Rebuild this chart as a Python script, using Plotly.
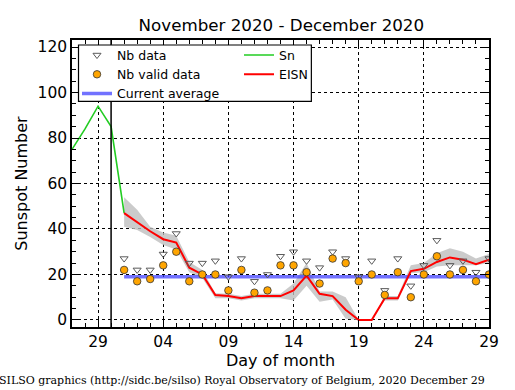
import pandas as pd
import plotly.graph_objects as go

# ---- data ----
sn_dates = ["2020-11-27", "2020-11-28", "2020-11-29", "2020-11-30", "2020-12-01"]
sn_values = [75, 84, 94, 85, 47]

dec_dates = [f"2020-12-{d:02d}" for d in range(1, 30)]
eisn = [47, 43, 39, 35.5, 34, 23, 20, 11, 10.5, 9.5, 10.5, 10.5, 10.5, 13, 19.5,
        11.5, 10.5, 4.5, 0, 0, 9.5, 9.5, 21.5, 22.5, 25.5, 27.5, 26.5, 24.5, 26.5]
eisn_low = [41, 39.5, 36.5, 33, 31, 21, 18.5, 9.5, 9.5, 8.5, 9.5, 9.5, 9.5, 8.5, 15,
            8, 9, 0.5, 0, 0, 8.5, 8.5, 20.5, 21, 23.5, 24, 24, 24, 25]
eisn_high = [54, 48.5, 41, 38.5, 37, 25.5, 22, 11.7, 11.5, 10.5, 11.5, 11.5, 11.5, 16, 25,
             12.5, 12.5, 10, 0, 0, 10.5, 10.5, 24, 25, 29.3, 31.5, 30, 27, 29]
nb_data = [27, 22, 22, 29, 38, 25, 25, 26, 19, 27, 17, 20, 28, 30, 26,
           23, 30, 27, 19, 26, 13, 27, 15, 24, 35, 24, 26, 21, 27]
nb_valid = [22, 17, 18, 24, 30, 17, 20, 20, 13, 22, 12, 13, 24, 24, 21,
            16, 27, 25, 17, 20, 11, 21, 10, 20, 28, 20, 22, 17, 20]
current_average = [19] * len(dec_dates)

x_range = ["2020-11-27", "2020-12-29"]
provisional_start = "2020-11-30"
title = "November 2020 - December 2020"
footer = "SILSO graphics (http://sidc.be/silso) Royal Observatory of Belgium, 2020 December 29"

FONT = "DejaVu Sans"

fig = go.Figure()

# band
fig.add_trace(go.Scatter(x=dec_dates, y=eisn_high, mode="lines", line=dict(width=0),
                         showlegend=False, hoverinfo="skip"))
fig.add_trace(go.Scatter(x=dec_dates, y=eisn_low, mode="lines", line=dict(width=0),
                         fill="tonexty", fillcolor="rgba(190,190,190,0.8)",
                         showlegend=False, hoverinfo="skip"))
# current average
fig.add_trace(go.Scatter(x=dec_dates, y=current_average, mode="lines", name="Current average",
                         line=dict(color="rgba(60,60,255,0.72)", width=3.5),
                         legend="legend", legendrank=3))
# Sn
fig.add_trace(go.Scatter(x=sn_dates, y=sn_values, mode="lines", name="Sn",
                         line=dict(color="#22cc22", width=1.6),
                         legend="legend2", legendrank=1))
# EISN
fig.add_trace(go.Scatter(x=dec_dates, y=eisn, mode="lines", name="EISN",
                         line=dict(color="#ff0000", width=2),
                         legend="legend2", legendrank=2))
# Nb data
fig.add_trace(go.Scatter(x=dec_dates, y=nb_data, mode="markers", name="Nb data",
                         marker=dict(symbol="triangle-down-open", size=7,
                                     color="#5a5a5a", line=dict(width=1)),
                         legend="legend", legendrank=1))
# Nb valid data
fig.add_trace(go.Scatter(x=dec_dates, y=nb_valid, mode="markers", name="Nb valid data",
                         marker=dict(symbol="circle", size=7.5, color="#ffa500",
                                     line=dict(color="#333333", width=0.8)),
                         legend="legend", legendrank=2))

fig.add_shape(type="line", x0=provisional_start, x1=provisional_start, xref="x",
              y0=0, y1=1, yref="paper", line=dict(color="black", width=1.5))
# legend frame
fig.add_shape(type="rect", xref="paper", yref="paper", x0=0.0156, x1=0.574,
              y0=0.786, y1=0.9826, layer="above",
              fillcolor="white", line=dict(color="black", width=1.2))

leg_common = dict(orientation="v", yanchor="top", xanchor="left",
                  bgcolor="rgba(0,0,0,0)", borderwidth=0, traceorder="normal",
                  font=dict(family=FONT, size=12.5, color="black"), itemwidth=30)

fig.update_layout(
    width=515, height=390,
    margin=dict(l=72, r=26, t=40, b=63),
    paper_bgcolor="white", plot_bgcolor="white",
    font=dict(family=FONT, color="black", size=15),
    title=dict(text=title, x=0.5463, xanchor="center", y=0.935, yanchor="middle",
               font=dict(family=FONT, size=16.7, color="black")),
    showlegend=True,
    legend=dict(x=0.012, y=0.9985, **leg_common),
    legend2=dict(x=0.4005, y=0.9985, **leg_common),
    annotations=[dict(text=footer, xref="paper", yref="paper", x=-0.1800, y=-0.188,
                      xanchor="left", yanchor="middle", showarrow=False,
                      font=dict(family="DejaVu Serif", size=11, color="black"))],
)

fig.update_xaxes(
    type="date", range=x_range, tickformat="%d", dtick=5 * 86400000, tick0="2020-11-29",
    ticks="inside", ticklen=7, tickcolor="black", tickwidth=1,
    showline=True, linecolor="black", linewidth=1.5, mirror="ticks",
    showgrid=True, gridcolor="black", griddash="dot", gridwidth=1,
    zeroline=False, tickfont=dict(size=15.5),
    title=dict(text="Day of month", font=dict(size=16), standoff=4),
    minor=dict(dtick=86400000, ticks="inside", ticklen=4, tickcolor="black", showgrid=False),
)
fig.update_yaxes(
    range=[-3.1, 123.1], dtick=20, tick0=0,
    ticks="inside", ticklen=7, tickcolor="black", tickwidth=1,
    showline=True, linecolor="black", linewidth=1.5, mirror="ticks",
    showgrid=True, gridcolor="black", griddash="dot", gridwidth=1,
    zeroline=False, tickfont=dict(size=15.5),
    title=dict(text="Sunspot Number", font=dict(size=16), standoff=6),
    minor=dict(dtick=5, ticks="inside", ticklen=4, tickcolor="black", showgrid=False),
)

fig.write_html("out.html", config={"displayModeBar": False},
               post_script="document.body.style.margin='0px';")
